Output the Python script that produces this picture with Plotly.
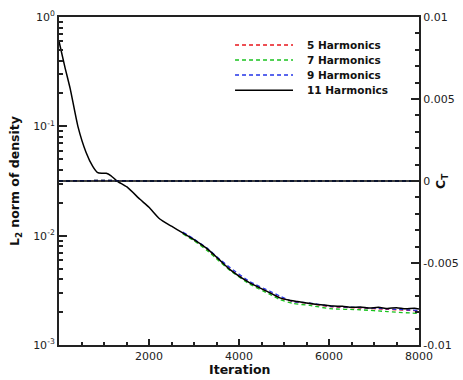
import plotly.graph_objects as go

# ---- data ----
iter_11 = [0, 130, 250, 420, 600, 750, 850, 950, 1050, 1150, 1290, 1510, 1800, 2000, 2240,
           2500, 2750, 3000, 3290, 3550, 3800, 4240, 4690, 4910,
           5100, 5300, 5500, 5700, 5900, 6100, 6300, 6500, 6700, 6900, 7100, 7300,
           7500, 7700, 7900, 8000]
l2_11 = [0.6, 0.35, 0.22, 0.10, 0.058, 0.043, 0.038, 0.0372, 0.0372, 0.0355, 0.0316,
         0.0279, 0.0215, 0.0182, 0.0142, 0.0122, 0.0106, 0.0092, 0.0076, 0.0061, 0.0049,
         0.0037, 0.0030, 0.0027,
         0.00258, 0.00250, 0.00242, 0.00236, 0.00232, 0.00227, 0.00226, 0.00221, 0.00223,
         0.00218, 0.00221, 0.00216, 0.00219, 0.00214, 0.00217, 0.00213]

iter_low = [2750, 3000, 3290, 3550, 3800, 4240, 4690, 4910, 5200, 5580, 6020, 6690, 7300, 8000]
l2_5 = [0.0106, 0.0091, 0.0075, 0.006, 0.0049, 0.0037, 0.0030, 0.0027, 0.0025, 0.0024,
        0.00224, 0.00218, 0.00212, 0.00205]
l2_7 = [0.0104, 0.0090, 0.0073, 0.0059, 0.0048, 0.0036, 0.0029, 0.0026, 0.0024, 0.0023,
        0.00215, 0.0021, 0.00202, 0.00194]
l2_9 = [0.0108, 0.0093, 0.0077, 0.0062, 0.0051, 0.0038, 0.0031, 0.0028, 0.0025, 0.00242,
        0.00226, 0.0022, 0.00214, 0.00207]

ct_iter = [0, 1000, 2000, 3000, 4000, 5000, 6000, 7000, 8000]
ct_5 = [0.0, 0.00003, 0.0, 0.0, 0.0, 0.0, 0.0, 0.0, 0.0]
ct_7 = [0.0, 0.00003, 0.0, 0.0, 0.0, 0.0, 0.0, 0.0, 0.0]
ct_9 = [0.0, 0.00003, 0.0, 0.0, 0.0, 0.0, 0.0, 0.0, 0.0]
ct_11 = [0.0, 0.0, 0.0, 0.0, 0.0, 0.0, 0.0, 0.0, 0.0]

names = ["5 Harmonics", "7 Harmonics", "9 Harmonics", "11 Harmonics"]
colors = ["#e8141b", "#19c21e", "#2233e8", "#000000"]
dashes = ["4px,3px", "4px,3px", "4px,3px", "solid"]

l2_ticks = [1e-3, 1e-2, 1e-1, 1]
l2_ticktext = ["10<sup>-3</sup>", "10<sup>-2</sup>", "10<sup>-1</sup>", "10<sup>0</sup>"]
ct_ticks = [-0.01, -0.005, 0, 0.005, 0.01]
ct_ticktext = ["-0.01", "-0.005", "0", "0.005", "0.01"]
x_ticks = [2000, 4000, 6000, 8000]

FONT = "DejaVu Sans, sans-serif"
AX = "#222222"

fig = go.Figure()

# C_T traces on right axis
for ct, c, d in zip([ct_5, ct_7, ct_9, ct_11], colors, dashes):
    fig.add_trace(go.Scatter(x=ct_iter, y=ct, yaxis="y2", mode="lines",
                             line=dict(color=c, width=1.5, dash=d), showlegend=False))

# L2 traces
for y, n, c, d in zip([l2_5, l2_7, l2_9], names[:3], colors[:3], dashes[:3]):
    fig.add_trace(go.Scatter(x=iter_low, y=y, mode="lines", name=n, showlegend=False,
                             line=dict(color=c, width=1.3, dash=d, shape="spline", smoothing=0.5)))
fig.add_trace(go.Scatter(x=iter_11, y=l2_11, mode="lines", name=names[3], showlegend=False,
                         line=dict(color=colors[3], width=1.5, shape="spline", smoothing=0.5)))

# manual legend (compact, like the reference)
legend_rows_y = [0.915, 0.869, 0.823, 0.777]
shapes = []
annotations = []
for n, c, d, ly in zip(names, colors, dashes, legend_rows_y):
    shapes.append(dict(type="line", xref="paper", yref="paper", x0=0.489, x1=0.65, y0=ly, y1=ly,
                       line=dict(color=c, width=1.5, dash=d)))
    annotations.append(dict(text="<b>%s</b>" % n, xref="paper", yref="paper", x=0.683, y=ly,
                            xanchor="left", yanchor="middle", showarrow=False,
                            font=dict(size=10.5, color="#111", family=FONT)))

annotations += [
    dict(text="<b>Iteration</b>", xref="paper", yref="paper", x=0.5, y=-0.076,
         yanchor="middle", showarrow=False, font=dict(size=12.5, color="#111", family=FONT)),
    dict(text="<b>L<sub>2</sub> norm of density</b>", xref="paper", yref="paper",
         x=-0.122, y=0.5, xanchor="center", yanchor="middle", textangle=-90, showarrow=False,
         font=dict(size=12.5, color="#111", family=FONT)),
    dict(text="<b>C<sub>T</sub></b>", xref="paper", yref="paper",
         x=1.061, y=0.5, xanchor="center", yanchor="middle", textangle=-90, showarrow=False,
         font=dict(size=12.5, color="#111", family=FONT)),
]

fig.update_layout(
    width=463, height=380,
    margin=dict(l=59, r=44, t=17, b=35),
    paper_bgcolor="white", plot_bgcolor="white",
    font=dict(family=FONT, size=11, color=AX),
    showlegend=False,
    shapes=shapes,
    annotations=annotations,
    xaxis=dict(range=[0, 8000], tickvals=x_ticks, ticks="inside", ticklen=6, tickwidth=1.5,
               tickcolor=AX, showline=True, linecolor=AX, linewidth=2, mirror=True,
               showgrid=False, zeroline=False, automargin=False,
               minor=dict(dtick=500, ticks="inside", ticklen=3, tickcolor=AX, showgrid=False)),
    yaxis=dict(type="log", range=[-3, 0], tickvals=l2_ticks, ticktext=l2_ticktext,
               ticks="inside", ticklen=8, tickwidth=2, tickcolor=AX, automargin=False,
               showline=True, linecolor=AX, linewidth=2, showgrid=False, zeroline=False,
               minor=dict(dtick="D1", ticks="inside", ticklen=4, tickcolor=AX, showgrid=False)),
    yaxis2=dict(overlaying="y", side="right", range=[-0.01, 0.01],
                tickvals=ct_ticks, ticktext=ct_ticktext, automargin=False,
                ticks="inside", ticklen=8, tickwidth=2, tickcolor=AX,
                showline=True, linecolor=AX, linewidth=2, showgrid=False, zeroline=False,
                minor=dict(dtick=0.001, ticks="inside", ticklen=4, tickcolor=AX, showgrid=False)),
)

fig.write_html("out.html", config={"displayModeBar": False},
               post_script="document.body.style.margin='0px';")
